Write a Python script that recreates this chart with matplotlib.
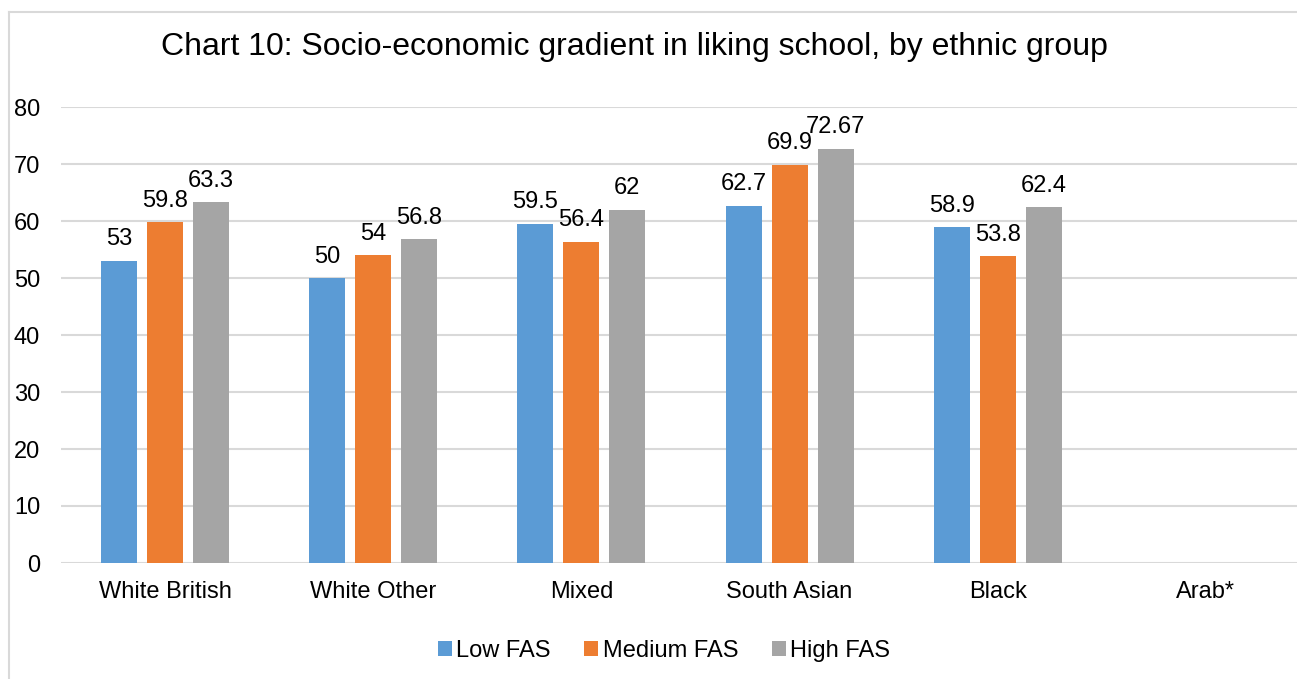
import numpy as np
import matplotlib.pyplot as plt
from matplotlib.lines import Line2D

plt.rcParams['font.family'] = ['Liberation Sans', 'DejaVu Sans']

# Datos
grupos = ["White British", "White Other", "Mixed", "South Asian", "Black", "Arab*"]
low_fas = [53, 50, 59.5, 62.7, 58.9, np.nan]
medium_fas = [59.8, 54, 56.4, 69.9, 53.8, np.nan]
high_fas = [63.3, 56.8, 62, 72.67, 62.4, np.nan]
etiquetas_low = ["53", "50", "59.5", "62.7", "58.9", ""]
etiquetas_med = ["59.8", "54", "56.4", "69.9", "53.8", ""]
etiquetas_high = ["63.3", "56.8", "62", "72.67", "62.4", ""]

colores = ["#5B9BD5", "#ED7D31", "#A5A5A5"]

fig = plt.figure(figsize=(12.97, 6.79), dpi=100)
ax = fig.add_axes([61 / 1297, 1 - 563 / 679, (1310 - 61) / 1297, (563 - 107) / 679])

x = np.arange(len(grupos))
ancho = 0.173
sep = 0.221

series = [
    (low_fas, etiquetas_low, "Low FAS", -sep),
    (medium_fas, etiquetas_med, "Medium FAS", 0),
    (high_fas, etiquetas_high, "High FAS", sep),
]
for (vals, etq, nombre, off), col in zip(series, colores):
    barras = ax.bar(x + off, vals, width=ancho, color=col, label=nombre, zorder=3)
    for b, v, t in zip(barras, vals, etq):
        if np.isnan(v):
            continue
        ax.annotate(t, (b.get_x() + b.get_width() / 2, v), xytext=(0, 7.5),
                    textcoords="offset points", ha="center", va="bottom", fontsize=17)

ax.set_xlim(-0.5, len(grupos) - 0.5)
ax.set_ylim(0, 80)
ax.set_yticks(range(0, 81, 10))
ax.set_xticks(x)
ax.set_xticklabels(grupos)
ax.tick_params(axis="both", length=0, labelsize=17)
ax.tick_params(axis="y", pad=15)
ax.tick_params(axis="x", pad=13)
ax.grid(axis="y", color="#D9D9D9", linewidth=1.5, zorder=0)
for s in ax.spines.values():
    s.set_visible(False)

fig.text(634 / 1297, 1 - 47 / 679, "Chart 10: Socio-economic gradient in liking school, by ethnic group",
         ha="center", va="center", fontsize=23)

fig.legend(loc="center", bbox_to_anchor=(664 / 1297, 1 - 651 / 679), ncol=3, frameon=False,
           fontsize=17, handlelength=0.6, handleheight=0.6, handletextpad=0.2, columnspacing=1.4)

# Borde del area del grafico (solo izquierda y arriba se ven)
y_top = 1 - 12 / 679
x_izq = 9 / 1297
fig.lines.append(Line2D([x_izq, x_izq], [0, y_top], transform=fig.transFigure, color="#D9D9D9", linewidth=1.5))
fig.lines.append(Line2D([x_izq, 1.01], [y_top, y_top], transform=fig.transFigure, color="#D9D9D9", linewidth=1.5))

fig.savefig("out.png", dpi=100)
